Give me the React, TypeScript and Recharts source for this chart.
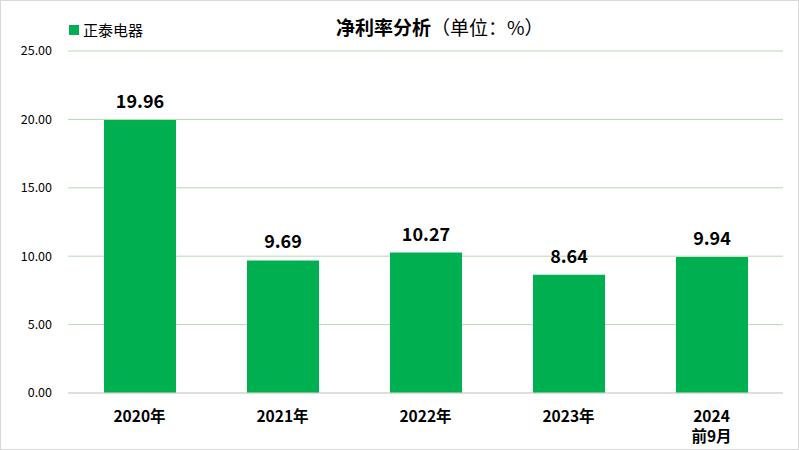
import { Bar, BarChart, CartesianGrid, LabelList, XAxis, YAxis } from 'recharts'

const categories = ['2020年', '2021年', '2022年', '2023年', '2024\n前9月']
const netMargin = [19.96, 9.69, 10.27, 8.64, 9.94]
const yTicks = [0, 5, 10, 15, 20, 25]
const seriesName = '正泰电器'

const font = '"Noto Sans CJK SC", "Noto Sans", sans-serif'
const barColor = '#00b050'

const data = categories.map((label, i) => ({ label, value: netMargin[i] }))

function CategoryTick({ x, y, payload }: any) {
  const lines = String(payload.value).split('\n')
  return (
    <g>
      {lines.map((line, i) => (
        <text
          key={i}
          x={x}
          y={y + 21 + i * 20}
          textAnchor="middle"
          fontFamily={font}
          fontSize={15.5}
          fontWeight={700}
          fill="#000"
        >
          {line}
        </text>
      ))}
    </g>
  )
}

export default function App() {
  return (
    <div style={{ position: 'absolute', left: 0, top: 0, width: 799, height: 450, background: '#fff', fontFamily: font }}>
      <div
        style={{
          position: 'absolute',
          left: 0,
          top: 0,
          width: 799,
          height: 450,
          boxSizing: 'border-box',
          border: '1px solid #d9d9d9',
          pointerEvents: 'none',
        }}
      />
      <div
        style={{
          position: 'absolute',
          left: 336,
          top: 13,
          fontSize: 19,
          fontWeight: 700,
          color: '#000',
          whiteSpace: 'nowrap',
        }}
      >
        净利率分析<span style={{ fontWeight: 400 }}>（单位：%）</span>
      </div>
      <div style={{ position: 'absolute', left: 69, top: 19, display: 'flex', alignItems: 'center', fontSize: 15, color: '#000' }}>
        <span style={{ display: 'inline-block', width: 10, height: 10, background: barColor, marginRight: 4 }} />
        {seriesName}
      </div>
      <BarChart width={799} height={450} data={data} margin={{ top: 51, right: 16, bottom: 0, left: 0 }}>
        <CartesianGrid vertical={false} stroke="#b5d9b5" />
        <XAxis
          dataKey="label"
          height={57}
          tickLine={false}
          axisLine={{ stroke: '#d9d9d9' }}
          tick={<CategoryTick />}
          interval={0}
        />
        <YAxis
          width={68}
          domain={[0, 25]}
          ticks={yTicks}
          axisLine={false}
          tickLine={false}
          tickMargin={10}
          tickFormatter={(v) => Number(v).toFixed(2)}
          tick={{ fontSize: 12.5, fill: '#000', fontFamily: font }}
        />
        <Bar dataKey="value" name={seriesName} fill={barColor} barSize={72} isAnimationActive={false}>
          <LabelList
            dataKey="value"
            position="top"
            offset={12}
            formatter={(v: any) => Number(v).toFixed(2)}
            style={{ fontSize: 18, fontWeight: 700, fill: '#000', fontFamily: font }}
          />
        </Bar>
      </BarChart>
    </div>
  )
}
